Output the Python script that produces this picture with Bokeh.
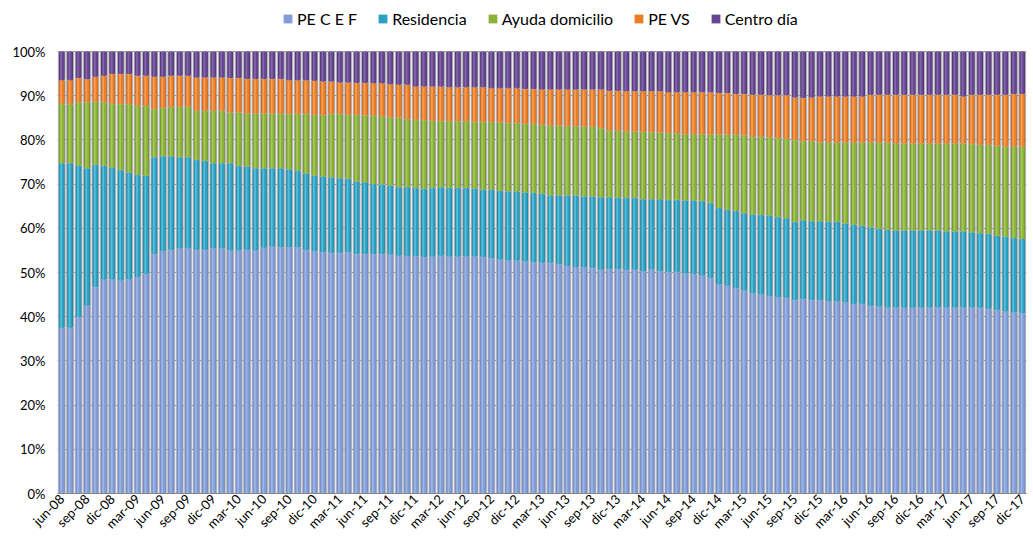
from math import pi
from bokeh.plotting import figure
from bokeh.models import (ColumnDataSource, FixedTicker, Legend, LegendItem,
                          PrintfTickFormatter, Range1d)
from bokeh.embed import file_html
from bokeh.resources import INLINE

meses = ["ene", "feb", "mar", "abr", "may", "jun", "jul", "ago", "sep", "oct", "nov", "dic"]
categories = [f"{meses[(5 + i) % 12]}-{(8 + (5 + i) // 12):02d}" for i in range(115)]

series_names = ["PE C E F", "Residencia", "Ayuda domicilio", "PE VS", "Centro día"]

pe_cef = [37.5, 37.5, 39.9, 42.5, 46.7, 48.4, 48.4, 48.2, 48.4, 48.9,
          49.7, 54.2, 54.8, 55.1, 55.5, 55.5, 55.1, 55.1, 55.5, 55.5,
          55.0, 55.0, 55.1, 55.0, 55.6, 55.9, 55.7, 55.7, 55.7, 55.1,
          54.8, 54.6, 54.4, 54.4, 54.6, 54.2, 54.2, 54.2, 54.2, 54.1,
          53.8, 53.7, 53.7, 53.5, 53.6, 53.8, 53.6, 53.6, 53.6, 53.6,
          53.5, 53.2, 52.9, 52.7, 52.7, 52.5, 52.3, 52.2, 52.2, 51.9,
          51.4, 51.2, 51.2, 51.0, 50.6, 50.8, 50.8, 50.6, 50.6, 50.3,
          50.7, 50.3, 50.1, 50.1, 49.8, 49.7, 49.3, 48.8, 47.3, 47.0,
          46.5, 45.9, 45.3, 45.0, 44.7, 44.4, 44.3, 43.8, 44.0, 43.8,
          43.7, 43.5, 43.5, 43.2, 42.9, 42.9, 42.4, 42.3, 42.1, 42.1,
          42.0, 42.0, 42.0, 42.1, 42.1, 42.1, 42.1, 42.1, 42.1, 42.0,
          41.8, 41.5, 41.2, 41.0, 40.8]

residencia = [37.2, 37.2, 34.3, 31.1, 27.7, 25.7, 25.3, 25.0, 24.2, 23.2,
              22.2, 21.9, 21.5, 21.2, 20.6, 20.6, 20.4, 20.1, 19.2, 19.2,
              19.7, 19.1, 18.9, 18.6, 18.0, 17.7, 17.9, 17.6, 17.3, 17.3,
              17.1, 17.1, 17.1, 16.9, 16.6, 16.4, 16.2, 15.8, 15.7, 15.6,
              15.5, 15.6, 15.4, 15.4, 15.5, 15.5, 15.5, 15.5, 15.5, 15.4,
              15.2, 15.5, 15.6, 15.6, 15.6, 15.6, 15.7, 15.6, 15.2, 15.5,
              16.0, 16.2, 16.0, 16.2, 16.4, 16.2, 16.1, 16.3, 16.3, 16.3,
              15.9, 16.3, 16.3, 16.3, 16.5, 16.6, 16.8, 16.9, 17.3, 17.2,
              17.4, 17.5, 17.8, 18.0, 18.2, 18.1, 18.0, 17.6, 17.8, 17.8,
              17.9, 18.0, 18.0, 17.9, 17.9, 17.7, 17.8, 17.6, 17.5, 17.4,
              17.5, 17.5, 17.5, 17.4, 17.4, 17.2, 17.2, 17.2, 17.0, 16.9,
              16.9, 16.8, 16.9, 16.8, 16.8]

ayuda = [13.4, 13.4, 14.3, 14.9, 14.3, 14.4, 14.4, 14.9, 15.5, 15.6,
         15.8, 10.9, 10.9, 11.2, 11.4, 11.4, 11.1, 11.4, 11.9, 11.9,
         11.5, 12.1, 12.0, 12.4, 12.4, 12.4, 12.3, 12.6, 12.9, 13.5,
         13.8, 13.9, 14.4, 14.6, 14.5, 15.1, 15.1, 15.5, 15.4, 15.4,
         15.7, 15.4, 15.4, 15.6, 15.2, 15.0, 15.1, 15.1, 15.1, 15.1,
         15.4, 15.3, 15.5, 15.5, 15.5, 15.5, 15.6, 15.6, 15.8, 15.8,
         15.7, 15.7, 15.9, 15.8, 15.7, 15.1, 15.2, 15.0, 15.0, 15.2,
         15.1, 15.1, 15.1, 15.1, 15.0, 15.0, 15.2, 15.5, 16.6, 17.0,
         17.3, 17.6, 17.6, 17.7, 17.7, 17.9, 17.9, 18.6, 17.9, 18.1,
         17.8, 17.9, 17.9, 18.3, 18.6, 18.8, 19.2, 19.5, 19.8, 19.7,
         19.7, 19.7, 19.7, 19.7, 19.7, 19.9, 19.9, 19.9, 20.0, 20.0,
         20.2, 20.4, 20.4, 20.7, 20.9]

pe_vs = [5.4, 5.4, 5.5, 5.2, 5.6, 6.0, 6.8, 6.8, 6.8, 6.8,
         6.8, 7.3, 7.1, 7.0, 7.0, 7.0, 7.5, 7.5, 7.5, 7.5,
         7.8, 7.8, 7.8, 7.8, 7.8, 7.8, 7.9, 7.6, 7.6, 7.6,
         7.7, 7.6, 7.3, 7.1, 7.3, 7.2, 7.4, 7.3, 7.5, 7.5,
         7.5, 7.8, 7.6, 7.6, 7.8, 7.8, 7.7, 7.7, 7.7, 7.8,
         7.8, 7.7, 7.7, 7.9, 7.9, 7.9, 7.9, 8.0, 8.2, 8.2,
         8.3, 8.3, 8.3, 8.4, 8.7, 9.0, 9.0, 9.1, 9.1, 9.2,
         9.3, 9.3, 9.3, 9.3, 9.5, 9.5, 9.5, 9.6, 9.4, 9.4,
         9.2, 9.4, 9.5, 9.5, 9.5, 9.7, 9.9, 9.6, 9.8, 9.9,
         10.4, 10.4, 10.4, 10.4, 10.4, 10.4, 10.8, 10.8, 10.8, 11.0,
         11.0, 11.0, 11.0, 11.0, 11.0, 11.0, 11.0, 10.6, 11.1, 11.3,
         11.3, 11.5, 11.7, 11.9, 11.9]

centro_dia = [6.5, 6.5, 6.0, 6.3, 5.7, 5.5, 5.1, 5.1, 5.1, 5.5,
              5.5, 5.7, 5.7, 5.5, 5.5, 5.5, 5.9, 5.9, 5.9, 5.9,
              6.0, 6.0, 6.2, 6.2, 6.2, 6.2, 6.2, 6.5, 6.5, 6.5,
              6.6, 6.8, 6.8, 7.0, 7.0, 7.1, 7.1, 7.2, 7.2, 7.4,
              7.5, 7.5, 7.9, 7.9, 7.9, 7.9, 8.1, 8.1, 8.1, 8.1,
              8.1, 8.3, 8.3, 8.3, 8.3, 8.5, 8.5, 8.6, 8.6, 8.6,
              8.6, 8.6, 8.6, 8.6, 8.6, 8.9, 8.9, 9.0, 9.0, 9.0,
              9.0, 9.0, 9.2, 9.2, 9.2, 9.2, 9.2, 9.2, 9.4, 9.4,
              9.6, 9.6, 9.8, 9.8, 9.9, 9.9, 9.9, 10.4, 10.5, 10.4,
              10.2, 10.2, 10.2, 10.2, 10.2, 10.2, 9.8, 9.8, 9.8, 9.8,
              9.8, 9.8, 9.8, 9.8, 9.8, 9.8, 9.8, 10.2, 9.8, 9.8,
              9.8, 9.8, 9.8, 9.6, 9.6]

edge_colors = ["#6a84c0", "#1d7e98", "#688826", "#c25e18", "#49316b"]
main_colors = ["#809dd7", "#2aa0c2", "#89b236", "#eb7e24", "#65458f"]
high_colors = ["#9db5e6", "#58bedb", "#a4c85a", "#f69e55", "#8265ab"]

x = list(range(len(categories)))
keys = ["s0", "s1", "s2", "s3", "s4"]
source = ColumnDataSource(dict(
    x=x,
    xh=[v - 0.07 for v in x],
    s0=pe_cef, s1=residencia, s2=ayuda, s3=pe_vs, s4=centro_dia,
))

FRAME_H = 493          # frame from top of page to 0% line
PX_PER_100 = 442       # pixels between 0% and 100%
y_top = 100.0 * FRAME_H / PX_PER_100   # room above 100% for the legend

p = figure(frame_width=969, frame_height=FRAME_H, output_backend="svg",
           toolbar_location=None,
           x_range=Range1d(-0.5, len(categories) - 0.5), y_range=Range1d(0, y_top),
           min_border_left=57, min_border_right=4, min_border_top=0,
           min_border_bottom=0)
p.outline_line_color = None
p.background_fill_color = "white"

p.xgrid.grid_line_color = None
p.ygrid.grid_line_color = "#7f7f7f"
p.ygrid.ticker = FixedTicker(ticks=list(range(0, 101, 10)))

base = p.vbar_stack(keys, x="x", width=0.8, source=source,
                    fill_color=edge_colors, line_color="#b2b2b8", line_width=1)
mid = p.vbar_stack(keys, x="x", width=0.54, source=source,
                   fill_color=main_colors, line_color=None)
hi = p.vbar_stack(keys, x="xh", width=0.2, source=source,
                  fill_color=high_colors, line_color=None)

# axes
p.yaxis.ticker = FixedTicker(ticks=list(range(0, 101, 10)))
p.yaxis.formatter = PrintfTickFormatter(format="%d%%")
p.yaxis.major_label_text_font = "Lato"
p.yaxis.major_label_text_font_size = "13px"
p.yaxis.major_label_text_color = "#000000"
p.yaxis.axis_line_color = None
p.yaxis.major_tick_line_color = None
p.yaxis.minor_tick_line_color = None
p.yaxis.major_tick_out = 0
p.yaxis.major_tick_in = 0
p.yaxis.major_label_standoff = 12

p.xaxis.ticker = FixedTicker(ticks=list(range(0, len(categories), 3)))
p.xaxis.major_label_overrides = {i: categories[i] for i in range(0, len(categories), 3)}
p.xaxis.major_label_orientation = pi / 4
p.xaxis.major_label_text_font = "Lato"
p.xaxis.major_label_text_font_size = "13px"
p.xaxis.major_label_text_color = "#000000"
p.xaxis.axis_line_color = "#868686"
p.xaxis.major_tick_line_color = None
p.xaxis.minor_tick_line_color = None
p.xaxis.major_tick_out = 0
p.xaxis.major_tick_in = 0
p.xaxis.major_label_standoff = 3

legend = Legend(
    items=[LegendItem(label=n, renderers=[r]) for n, r in zip(series_names, mid)],
    orientation="horizontal",
    location=(225, 465),
    label_text_font="Lato", label_text_font_size="16px", label_text_color="#000000",
    glyph_width=11, glyph_height=11, label_standoff=4, spacing=20,
    padding=0, margin=0, border_line_color=None, background_fill_alpha=0,
)
p.add_layout(legend, "center")

open("out.html", "w").write(file_html(p, INLINE))
